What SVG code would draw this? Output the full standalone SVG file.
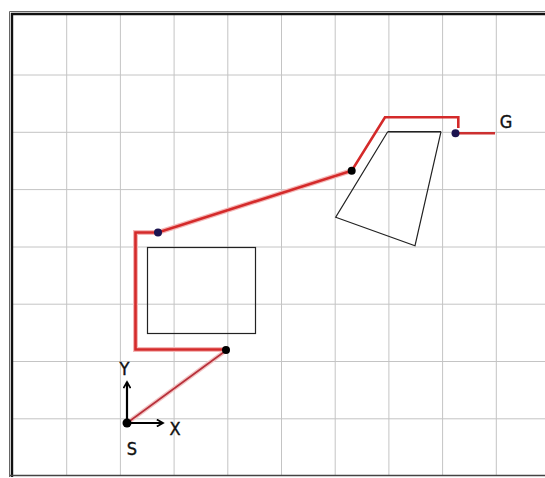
<svg xmlns="http://www.w3.org/2000/svg" width="545" height="478" viewBox="0 0 545 478">
<style>
.grid line{stroke:#c4c4c4;stroke-width:1}
.path{fill:none;stroke:#d42a2a;stroke-width:2.6;stroke-linejoin:miter}
.halo{fill:none;stroke:#f4b8b8;stroke-width:5}
.obs{fill:none;stroke:#222;stroke-width:1.2}
.lbl{font-family:"DejaVu Sans Condensed","DejaVu Sans","Liberation Sans",sans-serif;font-size:18px;fill:#111;stroke:#111;stroke-width:0.4}
.axis{stroke:#000;stroke-width:2.2;fill:none}
.bdot{fill:#000}
.ndot{fill:#1c1450}
</style>
<defs>
<marker id="chev" viewBox="0 0 10 10" refX="8" refY="5" markerWidth="4" markerHeight="4" orient="auto" markerUnits="strokeWidth">
<polyline points="1,1 8,5 1,9" fill="none" stroke="#000" stroke-width="2"/>
</marker>
</defs>
<rect x="0" y="0" width="545" height="478" fill="#fff"/>
<g class="grid">
<line x1="66.7" y1="14" x2="66.7" y2="475"/>
<line x1="120.4" y1="14" x2="120.4" y2="475"/>
<line x1="174.1" y1="14" x2="174.1" y2="475"/>
<line x1="227.8" y1="14" x2="227.8" y2="475"/>
<line x1="281.5" y1="14" x2="281.5" y2="475"/>
<line x1="335.2" y1="14" x2="335.2" y2="475"/>
<line x1="388.9" y1="14" x2="388.9" y2="475"/>
<line x1="442.6" y1="14" x2="442.6" y2="475"/>
<line x1="496.3" y1="14" x2="496.3" y2="475"/>
<line x1="12" y1="75" x2="545" y2="75"/>
<line x1="12" y1="132.3" x2="545" y2="132.3"/>
<line x1="12" y1="189.6" x2="545" y2="189.6"/>
<line x1="12" y1="247" x2="545" y2="247"/>
<line x1="12" y1="304.2" x2="545" y2="304.2"/>
<line x1="12" y1="361.5" x2="545" y2="361.5"/>
<line x1="12" y1="418.8" x2="545" y2="418.8"/>
</g>
<g id="frame" fill="none">
<polyline points="9.5,477 9.5,11.5 545,11.5" stroke="#666" stroke-width="1"/>
<polyline points="12,477 12,14 545,14" stroke="#111" stroke-width="2.4"/>
<line x1="10" y1="475.5" x2="545" y2="475.5" stroke="#444" stroke-width="1.5"/>
</g>
<g id="obstacle-rect"><rect class="obs" x="147.5" y="247.5" width="108" height="86"/></g>
<g id="obstacle-quad">
<line x1="387.7" y1="131.7" x2="441" y2="131.7" stroke="#222" stroke-width="1.6"/>
<polyline class="obs" points="441,131.7 415,245.7 335.7,217.3 387.7,131.7" stroke-width="1"/>
</g>
<g id="connectors">
<line x1="127" y1="423" x2="226" y2="350.5" stroke="#f2c4c4" stroke-width="4.5"/>
<line x1="127" y1="423" x2="226" y2="350.5" stroke="#b8303a" stroke-width="1.6"/>
<polyline class="halo" points="226,349.5 135.5,349.5 135.5,232.5 158,232.5 351.7,170.7"/>
<polyline class="path" points="226,349.5 135.5,349.5 135.5,232.5 158,232.5 351.7,170.7 385,117.3 458.3,117.3 458.3,128"/>
<line x1="455" y1="133.3" x2="495" y2="133.3" stroke="#cc3030" stroke-width="2.6"/>
</g>
<g id="axes">
<line class="axis" x1="127" y1="423" x2="127" y2="382" marker-end="url(#chev)"/>
<line class="axis" x1="127" y1="423" x2="163" y2="423" marker-end="url(#chev)"/>
<text class="lbl" x="124.5" y="375" text-anchor="middle">Y</text>
<text class="lbl" x="175" y="435" text-anchor="middle">X</text>
</g>
<g id="node-S"><circle class="bdot" cx="127" cy="423" r="4.5"/><text class="lbl" x="132" y="455" text-anchor="middle">S</text></g>
<g id="node-w1"><circle class="bdot" cx="226" cy="350" r="4"/></g>
<g id="node-w2"><circle class="ndot" cx="158" cy="232.5" r="4"/></g>
<g id="node-w3"><circle class="bdot" cx="351.7" cy="170.7" r="4"/></g>
<g id="node-w4"><circle class="ndot" cx="455.5" cy="133.3" r="4"/></g>
<g id="node-G"><text class="lbl" x="506" y="128" text-anchor="middle">G</text></g>
</svg>
